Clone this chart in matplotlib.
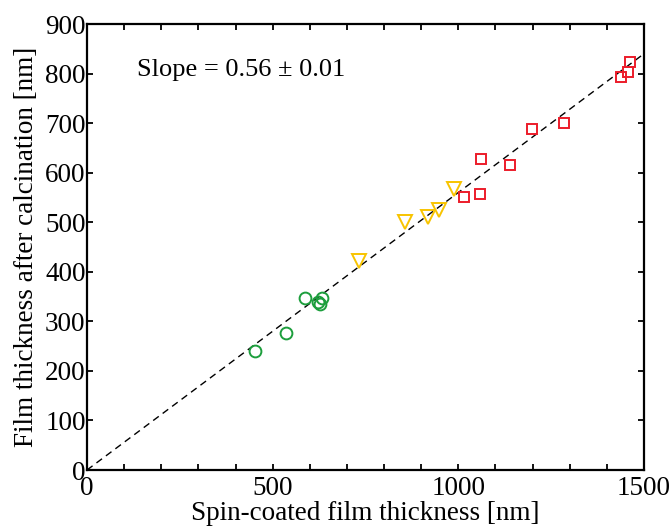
import matplotlib
matplotlib.use('Agg')
import numpy as np
import matplotlib.pyplot as plt
from matplotlib.ticker import MultipleLocator

# spin-coated thickness (x) vs thickness after calcination (y), nm
green_x = [452, 535, 587, 622, 627, 633]
green_y = [240, 276, 348, 340, 335, 347]
yellow_x = [733, 856, 919, 949, 987]
yellow_y = [422, 501, 511, 525, 568]
red_x = [1014, 1058, 1060, 1139, 1198, 1285, 1437, 1458, 1462]
red_y = [551, 557, 628, 615, 688, 701, 794, 804, 824]
slope = 0.56
slope_err = 0.01

plt.rcParams['font.family'] = ['Liberation Serif', 'DejaVu Serif']

fig = plt.figure(figsize=(6.7, 5.26), dpi=100)
ax = fig.add_axes([87/670, 1 - 470/526, 557/670, 446/526])

fit_x = np.array([0, 1500])
ax.plot(fit_x, slope * fit_x, '--', color='k', lw=1.0, dashes=(5, 3.5), zorder=1)

ax.plot(green_x, green_y, 'o', mfc='none', mec='#1c9e3c', mew=1.4, ms=8.5, ls='none')
ax.plot(yellow_x, yellow_y, 'v', mfc='none', mec='#f8c400', mew=1.4, ms=10, ls='none')
ax.plot(red_x, red_y, 's', mfc='none', mec='#ec1c2a', mew=1.4, ms=7.5, ls='none')

ax.text(135, 807, 'Slope = %.2f \u00b1 %.2f' % (slope, slope_err), fontsize=19, va='center')

ax.set_xlim(0, 1500)
ax.set_ylim(0, 900)
ax.xaxis.set_major_locator(MultipleLocator(500))
ax.xaxis.set_minor_locator(MultipleLocator(100))
ax.yaxis.set_major_locator(MultipleLocator(100))
ax.tick_params(which='both', direction='in', top=True, right=True, length=4, width=1.3, labelsize=19.5)
ax.tick_params(axis='x', pad=4)
ax.tick_params(axis='y', pad=1)
for s in ax.spines.values():
    s.set_linewidth(1.6)

ax.set_xlabel('Spin-coated film thickness [nm]', fontsize=19.5, labelpad=0)
ax.set_ylabel('Film thickness after calcination [nm]', fontsize=19.5, labelpad=4)

fig.savefig('out.png', dpi=100)
